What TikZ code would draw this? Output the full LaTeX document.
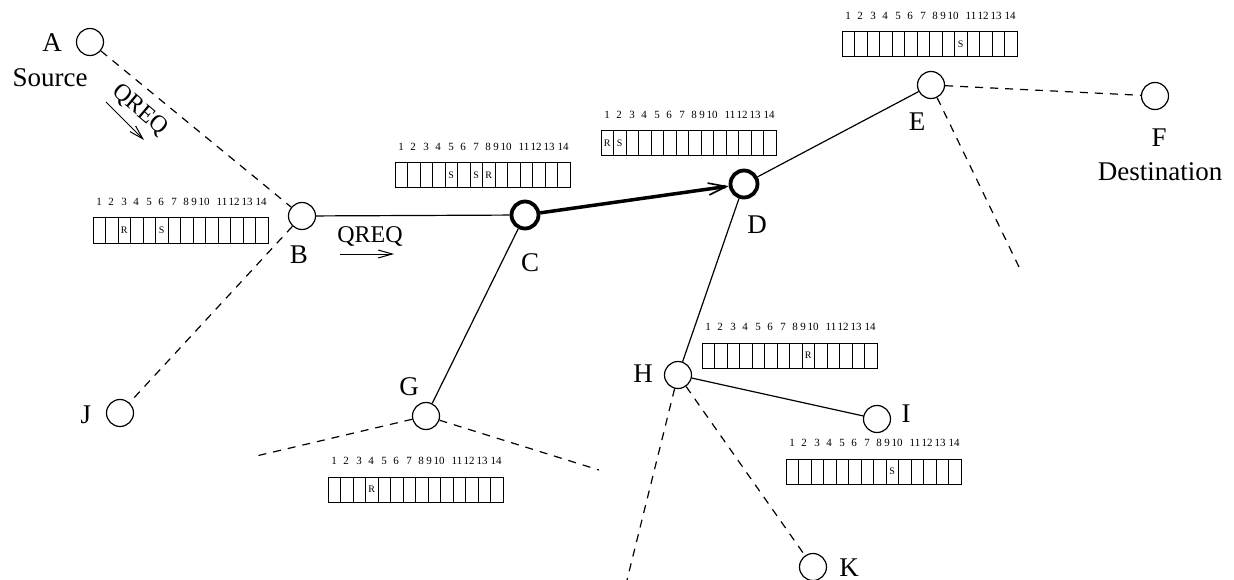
\documentclass[tikz,border=0pt]{standalone}
\usepackage{fontspec}
\setmainfont{Liberation Serif}
\usetikzlibrary{arrows.meta}

\newcommand{\slotrow}[3]{%
  \begin{scope}[shift={#2}]
    \foreach \ci in {0,...,13}
      \draw[slotcell] (\ci*12.5,0) rectangle ++(12.5,25);
    \foreach \n/\x in {1/6,2/18,3/31,4/43,5/56,6/68,7/81,8/93,9/101,10/111,11/129,12/141,13/154,14/168}
      \node[slotnum] (#1-\n) at (\x,-16) {\n};
    \foreach \ci/\cm in {#3}
      \node[slotmark] (#1-m\ci) at (\ci*12.5-6.25,12.5) {\cm};
  \end{scope}}

\begin{document}
\begin{tikzpicture}[x=1pt,y=-1pt,
    site/.style={circle,draw,line width=1.2pt,minimum size=27pt,inner sep=0pt},
    hub/.style={site,line width=3.8pt},
    lbl/.style={font=\fontsize{27}{30}\selectfont,inner sep=0pt},
    msg/.style={font=\fontsize{24}{26}\selectfont,inner sep=0pt},
    wire/.style={line width=1.2pt},
    trail/.style={wire,dash pattern=on 8pt off 7pt},
    route/.style={line width=3.5pt,-{Straight Barb[length=18pt,width=12pt,line width=1.6pt]}},
    msgarrow/.style={line width=1pt,-{Straight Barb[length=14pt,width=8pt]}},
    slotcell/.style={line width=1pt},
    slotnum/.style={font=\fontsize{11}{12}\selectfont,inner sep=0pt},
    slotmark/.style={font=\fontsize{10}{11}\selectfont,inner sep=0pt}]
    \useasboundingbox (0,0) rectangle (1234,580);

    \node[site] (a) at (90,42) {};
    \node[site] (b) at (302,216) {};
    \node[hub] (c) at (525,215) {};
    \node[hub] (d) at (744,184) {};
    \node[site] (e) at (931,85) {};
    \node[site] (f) at (1155,96) {};
    \node[site] (g) at (426,416) {};
    \node[site] (h) at (678,375) {};
    \node[site] (i) at (877,419) {};
    \node[site] (j) at (120,413) {};
    \node[site] (k) at (813,567) {};

    \node[lbl] (la) at (52,43) {A};
    \node[lbl] (src) at (50,78) {Source};
    \node[lbl] (lb) at (299,255) {B};
    \node[lbl] (lc) at (530,263) {C};
    \node[lbl] (ld) at (757,225) {D};
    \node[lbl] (le) at (917,122) {E};
    \node[lbl] (lf) at (1159,138) {F};
    \node[lbl] (dst) at (1160,172) {Destination};
    \node[lbl] (lg) at (409,387) {G};
    \node[lbl] (lh) at (643,374) {H};
    \node[lbl] (li) at (906,414) {I};
    \node[lbl] (lj) at (86,415) {J};
    \node[lbl] (lk) at (849,568) {K};

    \coordinate (gw) at (252,457);
    \coordinate (ge) at (599,470);
    \coordinate (es) at (1019,267);
    \coordinate (hs) at (627,580);

    \draw[trail] (a) -- (b);
    \draw[wire] (b) -- (c);
    \draw[trail] (b) -- (j);
    \draw[route] (c) -- (d);
    \draw[wire] (c) -- (g);
    \draw[wire] (d) -- (e);
    \draw[wire] (d) -- (h);
    \draw[trail] (e) -- (f);
    \draw[trail] (e) -- (es);
    \draw[trail] (g) -- (gw);
    \draw[trail] (g) -- (ge);
    \draw[wire] (h) -- (i);
    \draw[trail] (h) -- (k);
    \draw[trail] (h) -- (hs);

    \node[msg,rotate=-40] (q1) at (140,110) {QREQ};
    \coordinate (q1s) at (106,102);
    \coordinate (q1e) at (144,140);
    \draw[msgarrow] (q1s) -- (q1e);
    \node[msg] (q2) at (370,237) {QREQ};
    \coordinate (q2s) at (340,254);
    \coordinate (q2e) at (394,254);
    \draw[msgarrow] (q2s) -- (q2e);

    \slotrow{sb}{(93,218)}{3/R,6/S}
    \slotrow{sc}{(395,163)}{5/S,7/S,8/R}
    \slotrow{sd}{(601,131)}{1/R,2/S}
    \slotrow{se}{(842,32)}{10/S}
    \slotrow{sh}{(702,343)}{9/R}
    \slotrow{si}{(786,459)}{9/S}
    \slotrow{sg}{(328,477)}{4/R}
  \end{tikzpicture}
\end{document}
